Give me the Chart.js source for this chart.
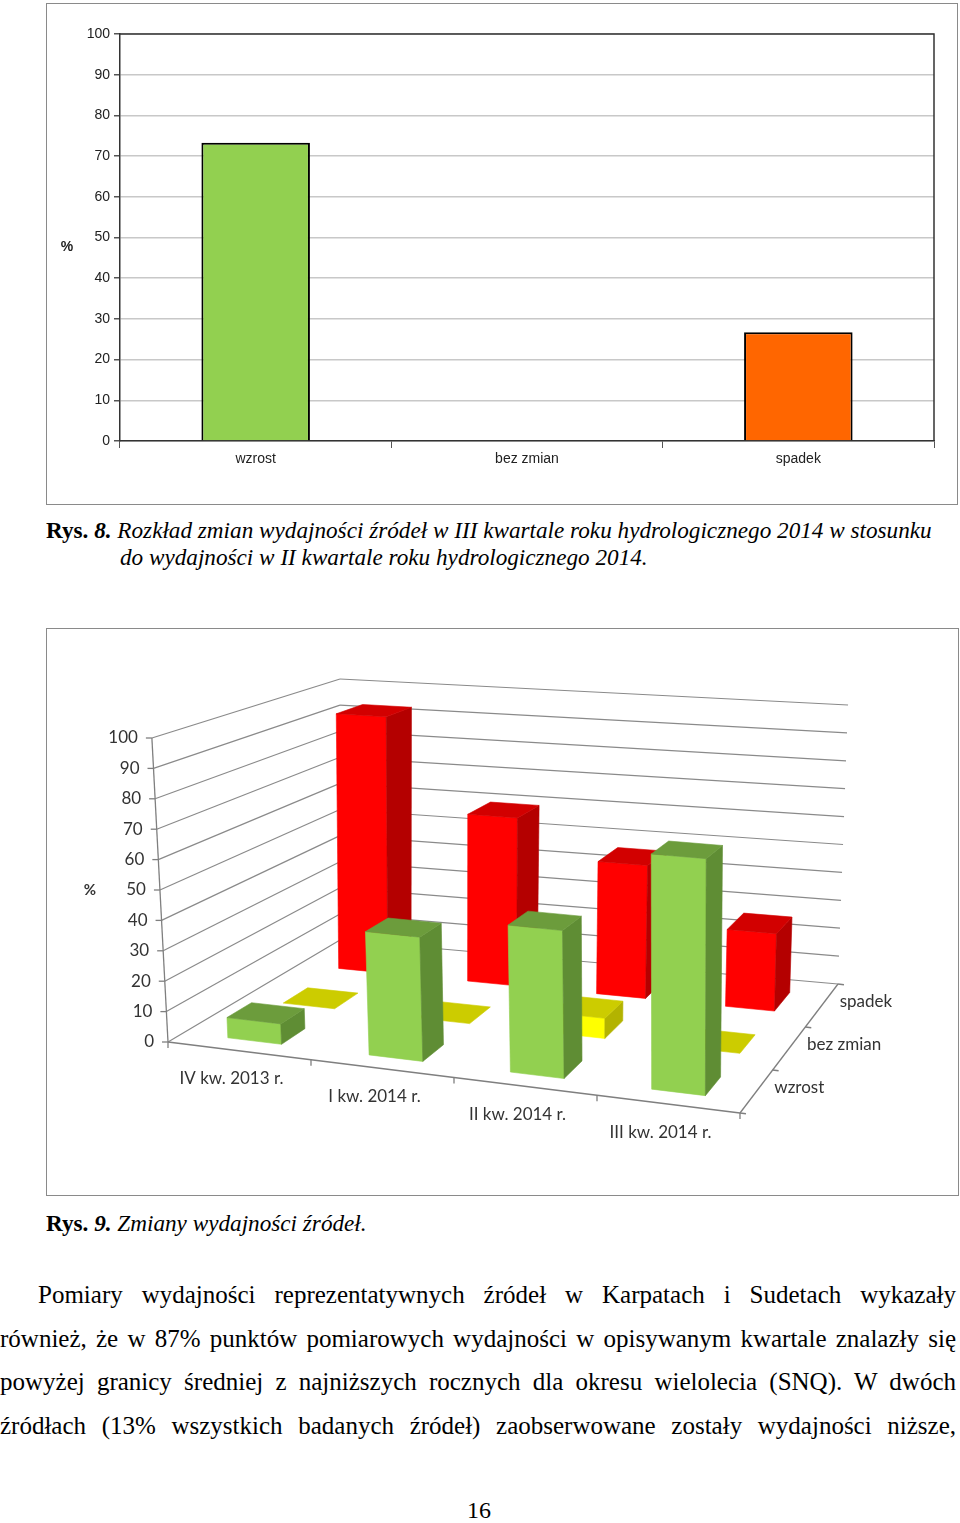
<!DOCTYPE html>
<html>
<head>
<meta charset="utf-8">
<script src="https://cdn.jsdelivr.net/npm/chart.js@4.4.1/dist/chart.umd.min.js"></script>
<style>
  body { margin: 0; width: 960px; height: 1523px; position: relative; background: #fff; overflow: hidden;
         font-family: "Liberation Serif", "Times New Roman", serif; color: #000; }
  .box { position: absolute; box-sizing: border-box; border: 1px solid #8a8a8a; background: #fff; }
  .box canvas { position: absolute; left: 0; top: 0; }
  .cap { position: absolute; font-size: 23.2px; white-space: nowrap; font-style: italic; }
  .cap b { font-style: normal; }
  .cap b i { font-style: italic; }
  .line { position: absolute; width: 956px; font-size: 25px; text-align: justify; text-align-last: justify; }
  .pnum { position: absolute; left: 0; width: 958px; top: 1497px; text-align: center; font-size: 24px; }
</style>
</head>
<body>

<div class="box" style="left:46px;top:3px;width:912px;height:502px;">
  <canvas id="chart1" width="910" height="500"></canvas>
</div>

<div class="cap" style="left:46px;top:517px;"><b>Rys. <i>8.</i></b> Rozkład zmian wydajności źródeł w III kwartale roku hydrologicznego 2014 w stosunku</div>
<div class="cap" style="left:120px;top:544px;">do wydajności w II kwartale roku hydrologicznego 2014.</div>

<div class="box" style="left:46px;top:628px;width:913px;height:568px;">
  <canvas id="chart2" width="911" height="566"></canvas>
</div>

<div class="cap" style="left:46px;top:1210px;"><b>Rys. <i>9.</i></b> Zmiany wydajności źródeł.</div>

<div class="line" style="left:38px;width:918px;top:1281px;">Pomiary wydajności reprezentatywnych źródeł w Karpatach i Sudetach wykazały</div>
<div class="line" style="left:0;top:1325px;">również, że w 87% punktów pomiarowych wydajności w opisywanym kwartale znalazły się</div>
<div class="line" style="left:0;top:1368px;">powyżej granicy średniej z najniższych rocznych dla okresu wielolecia (SNQ). W dwóch</div>
<div class="line" style="left:0;top:1412px;">źródłach (13% wszystkich badanych źródeł) zaobserwowane zostały wydajności niższe,</div>

<div class="pnum">16</div>

<script>
// ---- data ----
// Rys. 8
const changeCats = ['wzrost', 'bez zmian', 'spadek'];
const changeShare = [73.3, 0, 26.7];

// Rys. 9
const quarters = ['IV kw. 2013 r.', 'I kw. 2014 r.', 'II kw. 2014 r.', 'III kw. 2014 r.'];
const seriesNames = ['wzrost', 'bez zmian', 'spadek'];
const wzrost = [6.7, 40, 46.7, 73.3];
const bezZmian = [0, 0, 6.7, 0];
const spadek = [93.3, 60, 46.7, 26.7];

const yTicks = [0, 10, 20, 30, 40, 50, 60, 70, 80, 90, 100];


// chart 1 start
const frame1 = {
  id: 'frame1',
  afterDraw(chart) {
    const ctx = chart.ctx, a = chart.chartArea;
    ctx.save();
    ctx.strokeStyle = '#333';
    ctx.lineWidth = 1.5;
    ctx.beginPath();
    ctx.moveTo(a.left, a.top);
    ctx.lineTo(a.right, a.top);
    ctx.lineTo(a.right, a.bottom);
    ctx.stroke();
    ctx.fillStyle = '#222';
    ctx.font = 'bold 14px "Liberation Sans", Arial, sans-serif';
    ctx.textAlign = 'center';
    ctx.textBaseline = 'middle';
    ctx.fillText('%', 20, 243);
    ctx.restore();
  }
};

new Chart(document.getElementById('chart1'), {
  type: 'bar',
  data: {
    labels: changeCats,
    datasets: [{
      data: changeShare,
      backgroundColor: ['#92d050', '#92d050', '#ff6600'],
      borderColor: '#000',
      borderWidth: 2,
      barPercentage: 0.4,
      categoryPercentage: 1
    }]
  },
  options: {
    responsive: false,
    animation: false,
    layout: { padding: { top: 30, right: 23, left: 0, bottom: 0 } },
    plugins: { legend: { display: false }, tooltip: { enabled: false } },
    scales: {
      y: {
        min: 0, max: 100,
        afterFit: s => { s.width = 73; },
        ticks: { stepSize: 10, color: '#222', padding: 4,
                 font: { family: '"Liberation Sans", Arial, sans-serif', size: 14 } },
        grid: { color: '#c8c8c8', lineWidth: 1.5, tickLength: 6, tickColor: '#555' },
        border: { color: '#333', width: 1.5 }
      },
      x: {
        afterFit: s => { s.height = 63; },
        ticks: { color: '#222', padding: 3,
                 font: { family: '"Liberation Sans", Arial, sans-serif', size: 14 } },
        grid: { drawOnChartArea: false, tickLength: 7, tickColor: '#555' },
        border: { color: '#333', width: 1.5 }
      }
    }
  },
  plugins: [frame1]
});
// chart 1 close


// chart 2 (3d columns) start
// floor corners / height per 100% / slant of verticals, canvas coordinates
const corner = { FL: [121, 413], FR: [693, 484], BR: [791, 355], BL: [293, 311] };
const hScale = { FL: 304, FR: 330, BR: 279, BL: 261 };
const slant = { FL: -0.053, FR: 0.005, BR: 0.036, BL: 0 };

function lerp(a, b, t) { return a + (b - a) * t; }
function bil(o, u, d) { return lerp(lerp(o.FL, o.FR, u), lerp(o.BL, o.BR, u), d); }

// u = across quarters (0..1), d = depth (0 front .. 1 back), h = 0..1 of the value axis
function proj(u, d, h) {
  const x = lerp(lerp(corner.FL[0], corner.FR[0], u), lerp(corner.BL[0], corner.BR[0], u), d);
  const y = lerp(lerp(corner.FL[1], corner.FR[1], u), lerp(corner.BL[1], corner.BR[1], u), d);
  const s = bil(hScale, u, d);
  const t = bil(slant, u, d);
  return [x + t * s * h, y - s * h];
}

const faceColors = [
  { front: '#92d050', side: '#5f8d34', top: '#6c9c3c' },
  { front: '#ffff00', side: '#b3b300', top: '#cccc00' },
  { front: '#ff0000', side: '#b40000', top: '#d20000' }
];

const box3d = {
  id: 'box3d',
  beforeDatasetsDraw() { return false; },
  afterDraw(chart) {
    const ctx = chart.ctx, xs = chart.scales.x, ys = chart.scales.y;
    const nCat = chart.data.labels.length, nRow = chart.data.datasets.length;
    const frac = v => (ys.bottom - ys.getPixelForValue(v)) / (ys.bottom - ys.top);
    const uOf = i => (xs.getPixelForValue(i) - xs.left) / xs.width;
    const barW = 0.38, barD = 0.44;

    function quad(pts, col) {
      ctx.beginPath();
      pts.forEach((p, k) => k ? ctx.lineTo(p[0], p[1]) : ctx.moveTo(p[0], p[1]));
      ctx.closePath();
      ctx.fillStyle = col;
      ctx.strokeStyle = col;
      ctx.lineWidth = 0.6;
      ctx.fill();
      ctx.stroke();
    }
    function seg(a, b) { ctx.beginPath(); ctx.moveTo(a[0], a[1]); ctx.lineTo(b[0], b[1]); ctx.stroke(); }

    ctx.save();
    // walls
    ctx.strokeStyle = '#8a8a8a';
    ctx.lineWidth = 1.2;
    yTicks.forEach(v => {
      const h = frac(v);
      seg(proj(0, 0, h), proj(0, 1, h));
      seg(proj(0, 1, h), proj(1, 1, h));
    });

    // axes
    ctx.strokeStyle = '#7f7f7f';
    ctx.lineWidth = 1.3;
    seg(proj(0, 0, 0), proj(0, 0, 1));
    seg(proj(0, 0, 0), proj(1, 0, 0));
    seg(proj(1, 0, 0), proj(1, 1, 0));
    yTicks.forEach(v => {
      const p = proj(0, 0, frac(v));
      seg([p[0] - 6, p[1]], p);
    });
    for (let k = 0; k <= nCat; k++) {
      const p = proj(k / nCat, 0, 0);
      seg(p, [p[0], p[1] + 6]);
    }
    const ex = corner.FR[0] - corner.FL[0], ey = corner.FR[1] - corner.FL[1], el = Math.hypot(ex, ey);
    for (let k = 0; k <= nRow; k++) {
      const p = proj(1, k / nRow, 0);
      seg(p, [p[0] + ex / el * 6, p[1] + ey / el * 6]);
    }

    // columns, back row first
    for (let r = nRow - 1; r >= 0; r--) {
      const vals = chart.data.datasets[r].data, c = faceColors[r];
      const dc = (r + 0.5) / nRow, d0 = dc - barD / (2 * nRow), d1 = dc + barD / (2 * nRow);
      for (let i = 0; i < nCat; i++) {
        const uc = uOf(i), u0 = uc - barW / (2 * nCat), u1 = uc + barW / (2 * nCat);
        const h = frac(vals[i]);
        if (h > 0) {
          quad([proj(u0, d0, 0), proj(u1, d0, 0), proj(u1, d0, h), proj(u0, d0, h)], c.front);
          quad([proj(u1, d0, 0), proj(u1, d1, 0), proj(u1, d1, h), proj(u1, d0, h)], c.side);
        }
        quad([proj(u0, d0, h), proj(u1, d0, h), proj(u1, d1, h), proj(u0, d1, h)], c.top);
      }
    }

    // texts
    ctx.fillStyle = '#333';
    ctx.font = '17px Lato, "Open Sans", sans-serif';
    ctx.textBaseline = 'middle';
    ctx.textAlign = 'right';
    yTicks.forEach(v => {
      const p = proj(0, 0, frac(v));
      ctx.fillText(String(v), p[0] - 14, p[1]);
    });
    ctx.textAlign = 'center';
    chart.data.labels.forEach((lab, i) => {
      const p = proj(uOf(i), 0, 0);
      ctx.fillText(lab, p[0] - 8, p[1] + 28);
    });
    ctx.textAlign = 'left';
    seriesNames.forEach((name, r) => {
      const p = proj(1, (r + 0.5) / nRow, 0);
      ctx.fillText(name, p[0] + 18, p[1] - 4);
    });
    ctx.font = 'bold 15px Lato, "Open Sans", sans-serif';
    ctx.textAlign = 'center';
    ctx.fillText('%', 43, 261);
    ctx.restore();
  }
};

new Chart(document.getElementById('chart2'), {
  type: 'bar',
  data: {
    labels: quarters,
    datasets: [
      { label: seriesNames[0], data: wzrost },
      { label: seriesNames[1], data: bezZmian },
      { label: seriesNames[2], data: spadek }
    ]
  },
  options: {
    responsive: false,
    animation: false,
    layout: { padding: 0 },
    plugins: { legend: { display: false }, tooltip: { enabled: false } },
    scales: {
      x: { display: false },
      y: { display: false, min: 0, max: 100 }
    }
  },
  plugins: [box3d]
});
// chart 2 close
</script>
</body>
</html>
